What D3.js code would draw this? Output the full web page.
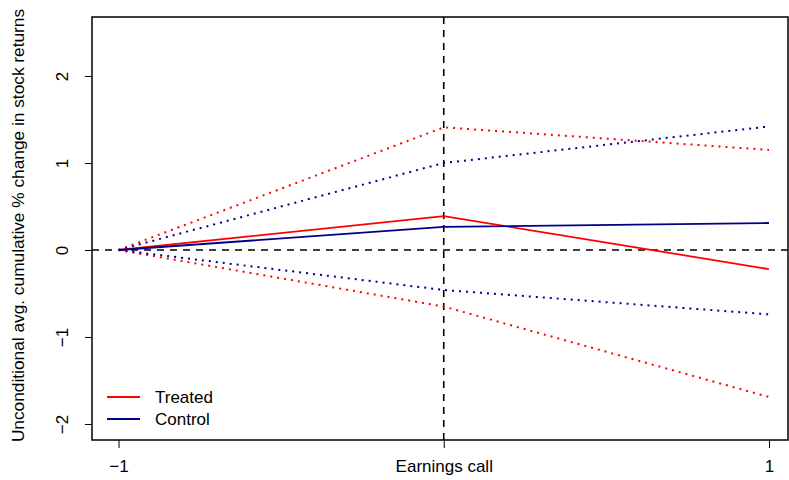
<!DOCTYPE html>
<html>
<head>
<meta charset="utf-8">
<script src="https://cdn.jsdelivr.net/npm/d3@7"></script>
<style>
  body { margin: 0; background: #fff; }
  svg { display: block; font-family: "Liberation Sans", Arial, sans-serif; }
</style>
</head>
<body>
<div id="chart"></div>
<script>
// periods on the x axis
var periods = [-1, 0, 1];
var tickLabels = ["\u22121", "Earnings call", "1"];
var yTicks = [-2, -1, 0, 1, 2];

// cumulative % change
var treated      = [0, 0.39, -0.22];
var treatedUpper = [0, 1.41, 1.15];
var treatedLower = [0, -0.65, -1.69];
var control      = [0, 0.265, 0.31];
var controlUpper = [0, 1.00, 1.42];
var controlLower = [0, -0.46, -0.74];

var width = 789, height = 480;
var margin = {top: 17, right: 1, bottom: 40, left: 92};
var w = width - margin.left - margin.right,
    h = height - margin.top - margin.bottom;

var svg = d3.select("#chart").append("svg")
    .attr("width", width).attr("height", height);

var g = svg.append("g")
    .attr("transform", "translate(" + margin.left + "," + margin.top + ")");

// domains widened like R does (4%)
var x = d3.scaleLinear().domain([-1.0815, 1.0585]).range([0, w]);
var y = d3.scaleLinear().domain([-2.184, 2.678]).range([h, 0]);

// y axis, labels rotated like R's default las=0
var yAxis = g.append("g")
    .call(d3.axisLeft(y).tickValues(yTicks).tickSize(7)
      .tickFormat(function(d) { return d < 0 ? "\u2212" + Math.abs(d) : d; }));
yAxis.select(".domain").remove();
yAxis.selectAll("line").attr("stroke", "#000");
yAxis.selectAll("text")
    .attr("font-size", "17px").attr("fill", "#000")
    .attr("text-anchor", "middle")
    .attr("x", 0).attr("y", 0).attr("dy", 0)
    .attr("transform", "translate(-24,0) rotate(-90)");

// x axis
var xAxis = g.append("g").attr("transform", "translate(0," + h + ")")
    .call(d3.axisBottom(x).tickValues(periods).tickSize(8).tickPadding(12)
      .tickFormat(function(d, i) { return tickLabels[i]; }));
xAxis.select(".domain").remove();
xAxis.selectAll("line").attr("stroke", "#000");
xAxis.selectAll("text").attr("font-size", "17px").attr("fill", "#000");

// reference lines
g.append("line")
    .attr("x1", 0).attr("x2", w).attr("y1", y(0)).attr("y2", y(0))
    .attr("stroke", "#000").attr("stroke-width", 1.6).attr("stroke-dasharray", "7,6");
g.append("line")
    .attr("x1", x(0)).attr("x2", x(0)).attr("y1", 0).attr("y2", h)
    .attr("stroke", "#000").attr("stroke-width", 1.6).attr("stroke-dasharray", "7,6");

var line = d3.line()
    .x(function(d, i) { return x(periods[i]); })
    .y(function(d) { return y(d); });

var series = [
  {v: treatedUpper, c: "#ff0000", dot: true},
  {v: treatedLower, c: "#ff0000", dot: true},
  {v: controlUpper, c: "#00008b", dot: true},
  {v: controlLower, c: "#00008b", dot: true},
  {v: treated, c: "#ff0000", dot: false},
  {v: control, c: "#00008b", dot: false}
];

g.selectAll(".series").data(series).enter()
  .append("path")
    .attr("class", "series")
    .attr("d", function(d) { return line(d.v); })
    .attr("fill", "none")
    .attr("stroke", function(d) { return d.c; })
    .attr("stroke-width", function(d) { return d.dot ? 2 : 1.8; })
    .attr("stroke-dasharray", function(d) { return d.dot ? "2,5" : null; });

// box
g.append("rect")
    .attr("x", 0).attr("y", 0).attr("width", w).attr("height", h)
    .attr("fill", "none").attr("stroke", "#000").attr("stroke-width", 1.5);

// y title
svg.append("text")
    .attr("transform", "translate(24," + (margin.top + h / 2 - 3) + ") rotate(-90)")
    .attr("text-anchor", "middle")
    .attr("font-size", "17.3px")
    .text("Unconditional avg. cumulative % change in stock returns");

// legend
var legend = [{name: "Treated", c: "#ff0000"}, {name: "Control", c: "#00008b"}];
var lg = svg.selectAll(".leg").data(legend).enter().append("g")
    .attr("transform", function(d, i) { return "translate(107," + (397 + i * 22) + ")"; });
lg.append("line").attr("x1", 0).attr("x2", 33)
    .attr("stroke", function(d) { return d.c; }).attr("stroke-width", 1.8);
lg.append("text").attr("x", 48).attr("dy", "0.35em")
    .attr("font-size", "17px").text(function(d) { return d.name; });
</script>
</body>
</html>
